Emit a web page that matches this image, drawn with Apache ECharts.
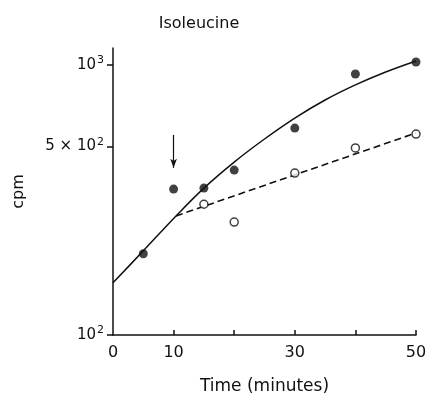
<!DOCTYPE html>
<html>
<head>
<meta charset="utf-8">
<script src="https://cdn.jsdelivr.net/npm/echarts@6/dist/echarts.min.js"></script>
<style>
  html, body { margin: 0; padding: 0; background: #fff; }
  #chart { width: 429px; height: 397px; }
</style>
</head>
<body>
<div id="chart"></div>
<script>
// measured points (filled = control, open = after addition at arrow)
const timeFilled = [5, 10, 15, 20, 30, 40, 50];
const cpmFilled = [200, 347, 350, 408, 584, 926, 1026];
const timeOpen = [15, 20, 30, 40, 50];
const cpmOpen = [305, 262, 398, 493, 555];

// fitted curves
const curveTime = [0, 5, 10.4, 15, 20, 25, 30, 35, 40, 45, 50];
const curveCpm = [156, 205, 276, 350, 437, 532, 636, 742, 844, 942, 1035];
const dashTime = [10.4, 50];
const dashCpm = [276, 560];

// arrow marking the addition
const arrowTime = [10, 10];
const arrowCpm = [551, 416];

const yTicks = [100, 500, 1000];
const xTicks = [10, 20, 30, 40, 50];
const xLabelled = [0, 10, 30, 50];

const ink = "#111";
const font = "DejaVu Sans";

const zip = (xs, ys) => xs.map((x, i) => [x, ys[i]]);

const chart = echarts.init(document.getElementById("chart"));

chart.setOption({
    animation: false,
    title: {
        text: "Isoleucine",
        left: 194,
        top: 11,
        textAlign: "center",
        textStyle: { fontFamily: font, fontSize: 16, fontWeight: "normal", color: ink },
    },
    grid: { left: 113, right: 13, top: 48, bottom: 62, outerBoundsMode: "none", containLabel: false },
    xAxis: {
        type: "value",
        min: 0,
        max: 50,
        interval: 10,
        name: "Time (minutes)",
        nameLocation: "middle",
        nameGap: 43,
        nameTextStyle: { fontFamily: font, fontSize: 17, color: ink },
        axisLine: { lineStyle: { color: ink, width: 1.5 } },
        axisTick: { inside: true, length: 5, customValues: xTicks, lineStyle: { color: ink, width: 1.5 } },
        axisLabel: {
            customValues: xLabelled,
            margin: 10,
            fontFamily: font,
            fontSize: 16,
            color: ink,
        },
        splitLine: { show: false },
    },
    yAxis: {
        type: "log",
        min: 100,
        max: 1156,
        name: "cpm",
        nameLocation: "middle",
        nameRotate: 90,
        nameGap: 86,
        nameTextStyle: { fontFamily: font, fontSize: 16, color: ink },
        axisLine: { show: true, lineStyle: { color: ink, width: 1.5 } },
        axisTick: { show: true, length: 6, customValues: yTicks, lineStyle: { color: ink, width: 1.5 } },
        axisLabel: {
            customValues: yTicks,
            margin: 9,
            color: ink,
            formatter: function (v) {
                if (v === 1000) return "{b|10}{s|3}";
                if (v === 500) return "{b|5 × 10}{s|2}";
                return "{b|10}{s|2}";
            },
            rich: {
                b: { fontFamily: font, fontSize: 15, color: ink },
                s: { fontFamily: font, fontSize: 11, color: ink, verticalAlign: "bottom", padding: [0, 0, 9, 1] },
            },
        },
        splitLine: { show: false },
    },
    series: [
        {
            type: "line",
            data: zip(curveTime, curveCpm),
            smooth: 0.35,
            showSymbol: false,
            lineStyle: { color: ink, width: 1.5 },
            silent: true,
        },
        {
            type: "line",
            data: zip(dashTime, dashCpm),
            showSymbol: false,
            lineStyle: { color: ink, width: 1.6, type: [7, 4] },
            silent: true,
        },
        {
            type: "line",
            data: zip(arrowTime, arrowCpm),
            showSymbol: false,
            lineStyle: { opacity: 0 },
            silent: true,
            markLine: {
                silent: true,
                symbol: ["none", "arrow"],
                symbolSize: [5, 9],
                label: { show: false },
                lineStyle: { color: ink, width: 1.2, type: "solid" },
                data: [[{ coord: [arrowTime[0], arrowCpm[0]] }, { coord: [arrowTime[1], arrowCpm[1]] }]],
            },
        },
        {
            type: "scatter",
            data: zip(timeFilled, cpmFilled),
            symbol: "circle",
            symbolSize: 9,
            itemStyle: { color: ink },
            z: 5,
        },
        {
            type: "scatter",
            data: zip(timeOpen, cpmOpen),
            symbol: "circle",
            symbolSize: 8,
            itemStyle: { color: "#fff", borderColor: ink, borderWidth: 1.5 },
            z: 5,
        },
    ],
});
</script>
</body>
</html>
